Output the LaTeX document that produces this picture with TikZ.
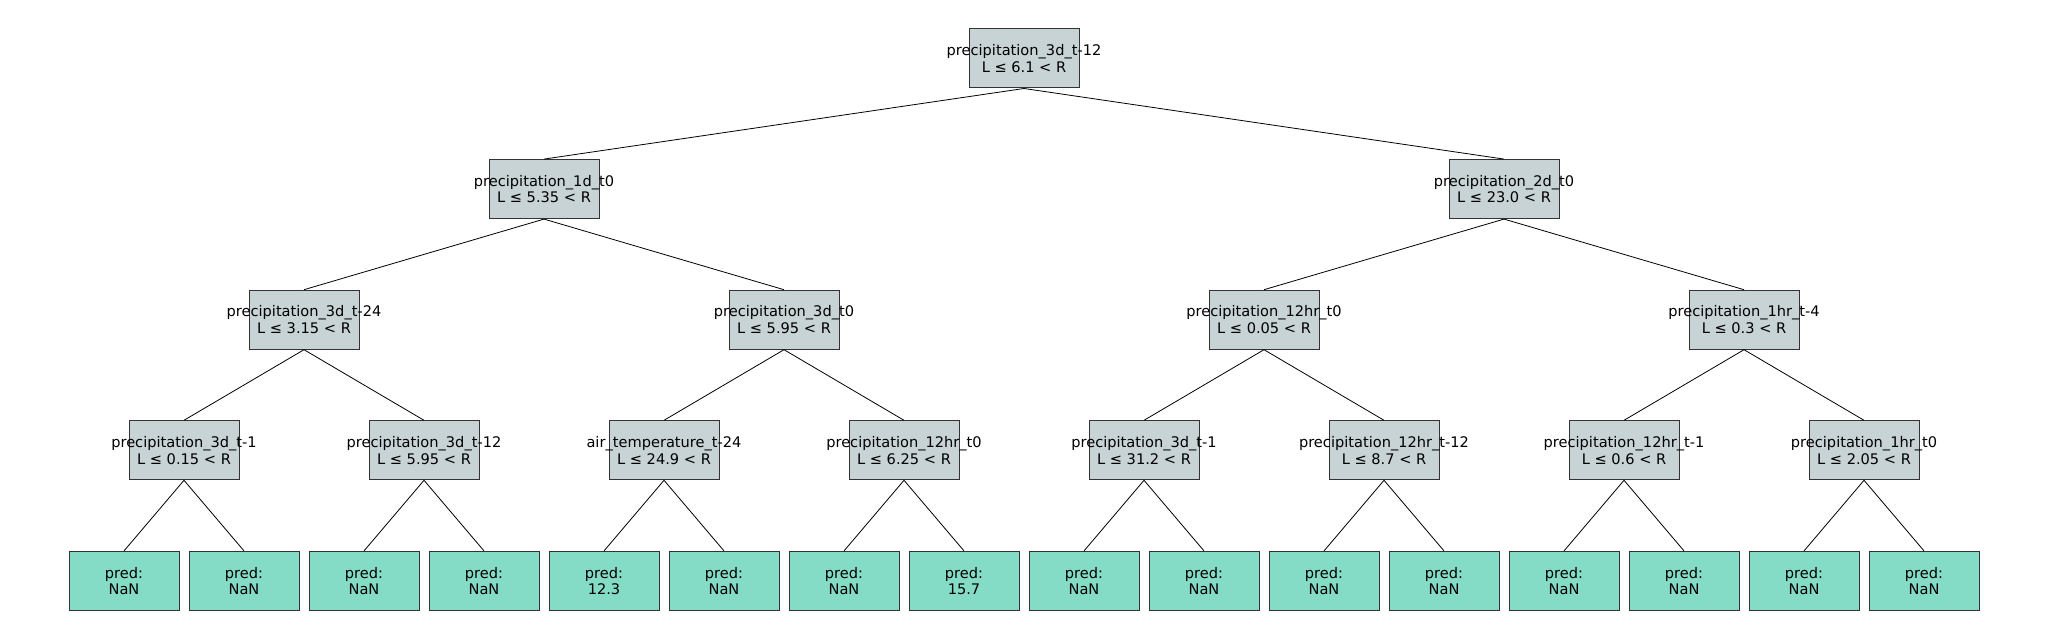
\documentclass[tikz,border=0pt]{standalone}
\usepackage{fontspec}
\setmainfont{DejaVu Sans}
\usepackage{xcolor}
\usepackage{tikz}
\usetikzlibrary{shapes,positioning}
\definecolor{splitgray}{HTML}{C7D3D4}
\definecolor{leafgreen}{HTML}{84DCC6}
\definecolor{boxline}{HTML}{333333}
\tikzstyle{split} = [rectangle, draw=boxline, line width=0.5pt, fill=splitgray, minimum width=55pt, minimum height=29.5pt, inner sep=0pt, align=center, font=\fontsize{7.3}{8.3}\selectfont]
\tikzstyle{leaf} = [rectangle, draw=boxline, line width=0.5pt, fill=leafgreen, minimum width=55pt, minimum height=29.5pt, inner sep=0pt, align=center, font=\fontsize{7.3}{8.3}\selectfont]
\tikzstyle{edge} = [draw=black, line width=0.4pt]
\newcommand{\splitrule}[2]{\makebox[0pt]{#1}\\\makebox[0pt]{L ≤ #2 < R}}
\newcommand{\predtext}[1]{pred:\\#1}

\begin{document}
\begin{tikzpicture}[node distance = 65.3pt]
  \useasboundingbox (0,0) rectangle (1024pt,-320pt);
  % splits
  \node[split] (root) at (512pt,-29.25pt) {\splitrule{precipitation\_3d\_t-12}{6.1}};
  \node[split] (l) [below of=root, xshift=-240pt] {\splitrule{precipitation\_1d\_t0}{5.35}};
  \node[split] (r) [below of=root, xshift=240pt] {\splitrule{precipitation\_2d\_t0}{23.0}};
  \node[split] (ll) [below of=l, xshift=-120pt] {\splitrule{precipitation\_3d\_t-24}{3.15}};
  \node[split] (lr) [below of=l, xshift=120pt] {\splitrule{precipitation\_3d\_t0}{5.95}};
  \node[split] (rl) [below of=r, xshift=-120pt] {\splitrule{precipitation\_12hr\_t0}{0.05}};
  \node[split] (rr) [below of=r, xshift=120pt] {\splitrule{precipitation\_1hr\_t-4}{0.3}};
  \node[split] (lll) [below of=ll, xshift=-60pt] {\splitrule{precipitation\_3d\_t-1}{0.15}};
  \node[split] (llr) [below of=ll, xshift=60pt] {\splitrule{precipitation\_3d\_t-12}{5.95}};
  \node[split] (lrl) [below of=lr, xshift=-60pt] {\splitrule{air\_temperature\_t-24}{24.9}};
  \node[split] (lrr) [below of=lr, xshift=60pt] {\splitrule{precipitation\_12hr\_t0}{6.25}};
  \node[split] (rll) [below of=rl, xshift=-60pt] {\splitrule{precipitation\_3d\_t-1}{31.2}};
  \node[split] (rlr) [below of=rl, xshift=60pt] {\splitrule{precipitation\_12hr\_t-12}{8.7}};
  \node[split] (rrl) [below of=rr, xshift=-60pt] {\splitrule{precipitation\_12hr\_t-1}{0.6}};
  \node[split] (rrr) [below of=rr, xshift=60pt] {\splitrule{precipitation\_1hr\_t0}{2.05}};
  % leaves
  \node[leaf] (llll) [below of=lll, xshift=-30pt] {\predtext{NaN}};
  \node[leaf] (lllr) [below of=lll, xshift=30pt] {\predtext{NaN}};
  \node[leaf] (llrl) [below of=llr, xshift=-30pt] {\predtext{NaN}};
  \node[leaf] (llrr) [below of=llr, xshift=30pt] {\predtext{NaN}};
  \node[leaf] (lrll) [below of=lrl, xshift=-30pt] {\predtext{12.3}};
  \node[leaf] (lrlr) [below of=lrl, xshift=30pt] {\predtext{NaN}};
  \node[leaf] (lrrl) [below of=lrr, xshift=-30pt] {\predtext{NaN}};
  \node[leaf] (lrrr) [below of=lrr, xshift=30pt] {\predtext{15.7}};
  \node[leaf] (rlll) [below of=rll, xshift=-30pt] {\predtext{NaN}};
  \node[leaf] (rllr) [below of=rll, xshift=30pt] {\predtext{NaN}};
  \node[leaf] (rlrl) [below of=rlr, xshift=-30pt] {\predtext{NaN}};
  \node[leaf] (rlrr) [below of=rlr, xshift=30pt] {\predtext{NaN}};
  \node[leaf] (rrll) [below of=rrl, xshift=-30pt] {\predtext{NaN}};
  \node[leaf] (rrlr) [below of=rrl, xshift=30pt] {\predtext{NaN}};
  \node[leaf] (rrrl) [below of=rrr, xshift=-30pt] {\predtext{NaN}};
  \node[leaf] (rrrr) [below of=rrr, xshift=30pt] {\predtext{NaN}};
  % edges
  \draw[edge] (root.south) -- (l.north);
  \draw[edge] (root.south) -- (r.north);
  \foreach \p in {l,r,ll,lr,rl,rr,lll,llr,lrl,lrr,rll,rlr,rrl,rrr}{
    \draw[edge] (\p.south) -- (\p l.north);
    \draw[edge] (\p.south) -- (\p r.north);
  }
\end{tikzpicture}
\end{document}
